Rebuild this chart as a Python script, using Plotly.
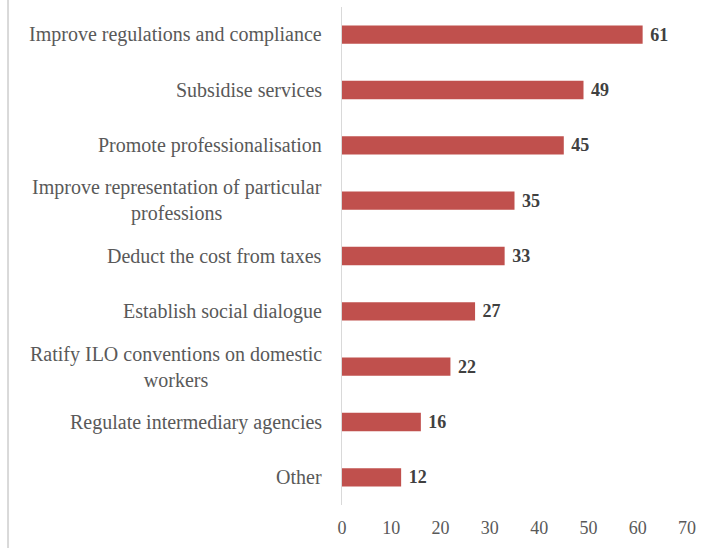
import plotly.graph_objects as go

categories = [
    "Improve regulations and compliance",
    "Subsidise services",
    "Promote professionalisation",
    "Improve representation of particular<br>professions",
    "Deduct the cost from taxes",
    "Establish social dialogue",
    "Ratify ILO conventions on domestic<br>workers",
    "Regulate intermediary agencies",
    "Other",
]
values = [61, 49, 45, 35, 33, 27, 22, 16, 12]
x_ticks = [0, 10, 20, 30, 40, 50, 60, 70]

FONT = "Liberation Serif"
GREY = "#595959"

fig = go.Figure()
fig.add_trace(go.Bar(
    y=categories,
    x=values,
    orientation="h",
    marker=dict(color="#C0504D", line=dict(width=0)),
    width=0.33,
    text=[" " + str(v) for v in values],
    textposition="outside",
    constraintext="none",
    textfont=dict(family=FONT, size=18, color="#404040", weight="bold"),
    cliponaxis=False,
))

for c in categories:
    fig.add_annotation(
        x=0, xref="paper", y=c, yref="y",
        text=c, showarrow=False, xanchor="right", yanchor="middle",
        xshift=-18, align="center",
        font=dict(family=FONT, size=20, color=GREY),
    )

fig.add_shape(type="line", xref="paper", yref="paper",
              x0=-0.968, x1=-0.968, y0=-0.1, y1=1.02,
              line=dict(color="#D9D9D9", width=2))

fig.update_layout(
    width=708, height=548,
    margin=dict(l=342, r=21, t=7, b=43),
    plot_bgcolor="white", paper_bgcolor="white",
    showlegend=False,
    xaxis=dict(range=[0, 70], tickvals=x_ticks, showgrid=False, zeroline=False,
               showline=False, ticks="", ticklabelstandoff=10,
               tickfont=dict(family=FONT, size=18, color=GREY)),
    yaxis=dict(categoryorder="array", categoryarray=categories[::-1],
               autorange=False, range=[-0.5, 8.5],
               showticklabels=False, showgrid=False, zeroline=False,
               showline=True, linecolor="#D9D9D9", linewidth=1, ticks=""),
)

fig.write_html("out.html")
